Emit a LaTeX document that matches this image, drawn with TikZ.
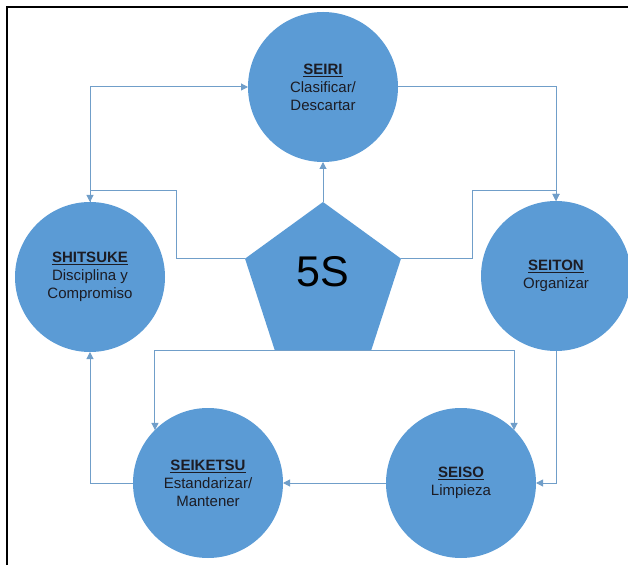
\documentclass[tikz,border=0pt]{standalone}
\usepackage{fontspec}
\setmainfont{Liberation Sans}
\usepackage{xcolor}
\usepackage{tikz}
\usetikzlibrary{arrows.meta,shapes.geometric}
\definecolor{sblue}{RGB}{91,155,213}
\definecolor{sline}{RGB}{112,158,201}
\definecolor{stext}{RGB}{28,28,36}

\begin{document}
\begin{tikzpicture}[x=1pt,y=1pt,
  arr/.style={-{Triangle[width=7pt,length=7pt]},line width=1pt,sline},
  ring/.style={circle,fill=sblue,minimum size=150pt,inner sep=0pt,outer sep=0pt,
    align=center,text=stext,font=\fontsize{15}{18}\selectfont}]
  \useasboundingbox (0,0) rectangle (628,565);
  % Frame
  \draw[line width=2pt] (7,0)--(7,558)--(628,558);
  % The five circles
  \node[ring] (seiri)    at (323,478) {\underline{\textbf{SEIRI}}\\Clasificar/\\Descartar};
  \node[ring] (seiton)   at (556,289) {\underline{\textbf{SEITON}}\\Organizar};
  \node[ring] (seiso)    at (461,82)  {\underline{\textbf{SEISO}}\\Limpieza};
  \node[ring] (seiketsu) at (208,82)  {\underline{\textbf{SEIKETSU}}\\Estandarizar/\\Mantener};
  \node[ring] (shitsuke) at (90,288)  {\underline{\textbf{SHITSUKE}}\\Disciplina y\\Compromiso};
  % Pentagon
  \node[regular polygon,regular polygon sides=5,fill=sblue,minimum size=164pt,
    inner sep=0pt,outer sep=0pt] (pent) at (323,281) {};
  \node[font=\fontsize{43}{43}\selectfont,text=black] (five) at (323,293) {5S};
  % Bends
  \coordinate (jl) at (176,374);
  \coordinate (jr) at (472,374);
  % Cycle
  \draw[arr] (shitsuke.north) |- (seiri.west);
  \draw[arr] (seiri.east) -| (seiton.north);
  \draw[arr] (seiton.south) |- (seiso.east);
  \draw[arr] (seiso.west) -- (seiketsu.east);
  \draw[arr] (seiketsu.west) -| (shitsuke.south);
  % From the pentagon
  \draw[arr] (pent.corner 1) -- (seiri.south);
  \draw[arr] (pent.corner 2) -| (jl) -| (shitsuke.north);
  \draw[arr] (pent.corner 5) -| (jr) -| (seiton.north);
  \draw[arr] (pent.side 3) -| (seiketsu.north west);
  \draw[arr] (pent.side 3) -| (seiso.north east);
\end{tikzpicture}
\end{document}
